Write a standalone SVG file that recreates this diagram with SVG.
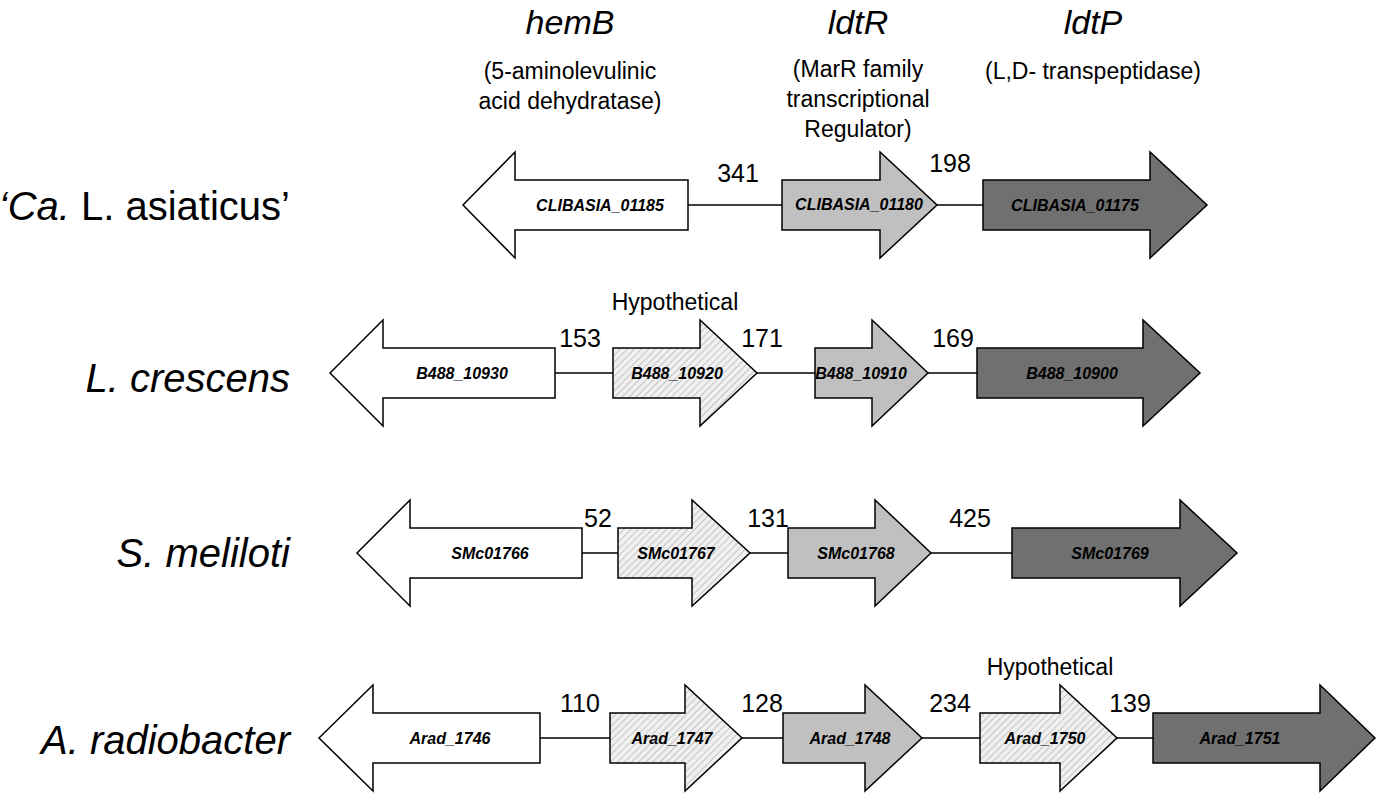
<svg xmlns="http://www.w3.org/2000/svg" width="1385" height="800" viewBox="0 0 1385 800">
<style>
text{font-family:"Liberation Sans",Arial,sans-serif;fill:#000}
.sp{font-size:40px;font-style:italic;text-anchor:end}
.g{font-size:16px;font-weight:bold;font-style:italic;text-anchor:middle}
.n{font-size:25px;text-anchor:middle}
.h{font-size:34px;font-style:italic;text-anchor:middle}
.d{font-size:23px;text-anchor:middle}
.a{stroke:#000;stroke-width:1.5}
.w{fill:#fff}.l{fill:#c0c0c0}.k{fill:#707070}.x{fill:url(#hatch)}
line{stroke:#000;stroke-width:1.5}
</style>
<defs>
<pattern id="hatch" width="5" height="5" patternUnits="userSpaceOnUse" patternTransform="rotate(45)">
<rect width="5" height="5" fill="#f0f0f0"/><line x1="0" y1="0" x2="0" y2="5" style="stroke:#999;stroke-width:1"/>
</pattern>
</defs>
<g id="header">
<text class="h" x="570" y="34">hemB</text>
<text class="d" x="570" y="79">(5-aminolevulinic</text>
<text class="d" x="570" y="109">acid dehydratase)</text>
<text class="h" x="858" y="34">ldtR</text>
<text class="d" x="858" y="77">(MarR family</text>
<text class="d" x="858" y="107">transcriptional</text>
<text class="d" x="858" y="137">Regulator)</text>
<text class="h" x="1093" y="34">ldtP</text>
<text class="d" x="1093" y="79">(L,D- transpeptidase)</text>
<text class="d" x="675" y="310">Hypothetical</text>
<text class="d" x="1050" y="675">Hypothetical</text>
</g>
<g id="species">
<text class="sp" x="290" y="220">‘<tspan>Ca.</tspan><tspan font-style="normal"> L. asiaticus’</tspan></text>
<text class="sp" x="290" y="392">L. crescens</text>
<text class="sp" x="290" y="567">S. meliloti</text>
<text class="sp" x="290" y="754">A. radiobacter</text>
</g>
<g id="connectors">
<line x1="688" y1="205" x2="782" y2="205"/><line x1="937" y1="205" x2="983" y2="205"/>
<line x1="555" y1="373" x2="613" y2="373"/><line x1="757" y1="373" x2="815" y2="373"/><line x1="928" y1="373" x2="977" y2="373"/>
<line x1="582" y1="553" x2="618" y2="553"/><line x1="750" y1="553" x2="788" y2="553"/><line x1="931" y1="553" x2="1012" y2="553"/>
<line x1="540" y1="738" x2="610" y2="738"/><line x1="742" y1="738" x2="783" y2="738"/><line x1="922" y1="738" x2="980" y2="738"/><line x1="1117" y1="738" x2="1153" y2="738"/>
</g>
<g id="numbers">
<text class="n" x="738" y="182">341</text><text class="n" x="950" y="172">198</text>
<text class="n" x="580" y="347">153</text><text class="n" x="762" y="347">171</text><text class="n" x="953" y="347">169</text>
<text class="n" x="598" y="527">52</text><text class="n" x="768" y="527">131</text><text class="n" x="970" y="527">425</text>
<text class="n" x="580" y="712">110</text><text class="n" x="762" y="712">128</text><text class="n" x="950" y="712">234</text><text class="n" x="1130" y="712">139</text>
</g>
<g id="r1a"><path class="a w" d="M463,205 L515,152 L515,180 L688,180 L688,230 L515,230 L515,258 Z"/><text class="g" x="600" y="211">CLIBASIA_01185</text></g>
<g id="r1b"><path class="a l" d="M782,180 L880,180 L880,152 L937,205 L880,258 L880,230 L782,230 Z"/><text class="g" x="859" y="210" font-size="14">CLIBASIA_01180</text></g>
<g id="r1c"><path class="a k" d="M983,180 L1150,180 L1150,152 L1207,205 L1150,258 L1150,230 L983,230 Z"/><text class="g" x="1075" y="211">CLIBASIA_01175</text></g>
<g id="r2a"><path class="a w" d="M330,373 L383,320 L383,348 L555,348 L555,398 L383,398 L383,426 Z"/><text class="g" x="462" y="379">B488_10930</text></g>
<g id="r2b"><path class="a x" d="M613,348 L700,348 L700,320 L757,373 L700,426 L700,398 L613,398 Z"/><text class="g" x="677" y="379">B488_10920</text></g>
<g id="r2c"><path class="a l" d="M815,348 L872,348 L872,320 L928,373 L872,426 L872,398 L815,398 Z"/><text class="g" x="861" y="379">B488_10910</text></g>
<g id="r2d"><path class="a k" d="M977,348 L1143,348 L1143,320 L1200,373 L1143,426 L1143,398 L977,398 Z"/><text class="g" x="1072" y="379">B488_10900</text></g>
<g id="r3a"><path class="a w" d="M357,553 L410,500 L410,528 L582,528 L582,578 L410,578 L410,606 Z"/><text class="g" x="490" y="559">SMc01766</text></g>
<g id="r3b"><path class="a x" d="M618,528 L692,528 L692,500 L750,553 L692,606 L692,578 L618,578 Z"/><text class="g" x="676" y="559">SMc01767</text></g>
<g id="r3c"><path class="a l" d="M788,528 L875,528 L875,500 L931,553 L875,606 L875,578 L788,578 Z"/><text class="g" x="856" y="559">SMc01768</text></g>
<g id="r3d"><path class="a k" d="M1012,528 L1180,528 L1180,500 L1237,553 L1180,606 L1180,578 L1012,578 Z"/><text class="g" x="1110" y="559">SMc01769</text></g>
<g id="r4a"><path class="a w" d="M319,738 L373,685 L373,713 L540,713 L540,763 L373,763 L373,791 Z"/><text class="g" x="450" y="744">Arad_1746</text></g>
<g id="r4b"><path class="a x" d="M610,713 L685,713 L685,685 L742,738 L685,791 L685,763 L610,763 Z"/><text class="g" x="672" y="744">Arad_1747</text></g>
<g id="r4c"><path class="a l" d="M783,713 L865,713 L865,685 L922,738 L865,791 L865,763 L783,763 Z"/><text class="g" x="850" y="744">Arad_1748</text></g>
<g id="r4d"><path class="a x" d="M980,713 L1060,713 L1060,685 L1117,738 L1060,791 L1060,763 L980,763 Z"/><text class="g" x="1045" y="744">Arad_1750</text></g>
<g id="r4e"><path class="a k" d="M1153,713 L1320,713 L1320,685 L1375,738 L1320,791 L1320,763 L1153,763 Z"/><text class="g" x="1240" y="744">Arad_1751</text></g>
</svg>
